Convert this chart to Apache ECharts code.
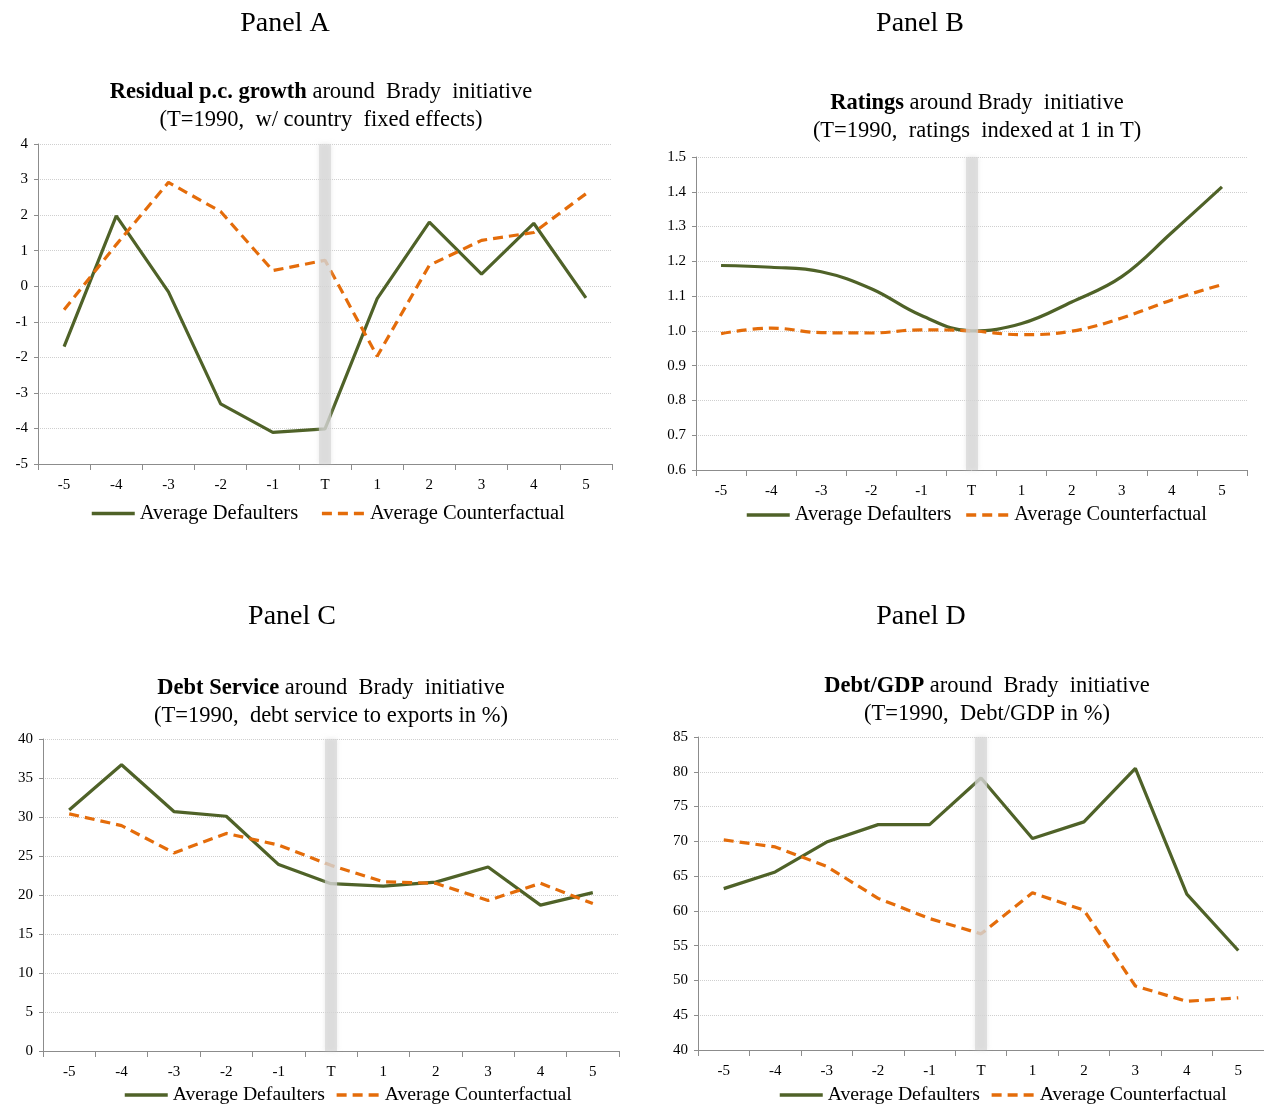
<!DOCTYPE html>
<html><head><meta charset="utf-8">
<script src="https://cdn.jsdelivr.net/npm/echarts@6/dist/echarts.min.js"></script>
<style>html,body{margin:0;padding:0;background:#fff}#c{width:1264px;height:1105px}</style>
</head><body><div id="c"></div><script>
const categories = ['-5','-4','-3','-2','-1','T','1','2','3','4','5'];

const growthDefaulters     = [-1.70, 1.98, -0.16, -3.31, -4.11, -4.01, -0.35, 1.80, 0.34, 1.77, -0.33];
const growthCounterfactual = [-0.66, 1.17, 2.92, 2.10, 0.44, 0.73, -1.97, 0.59, 1.29, 1.51, 2.60];

const ratingsDefaulters     = [1.188, 1.183, 1.170, 1.121, 1.044, 1.000, 1.021, 1.083, 1.156, 1.283, 1.414];
const ratingsCounterfactual = [0.992, 1.008, 0.995, 0.994, 1.003, 1.000, 0.989, 0.999, 1.037, 1.089, 1.133];

const debtServiceDefaulters     = [30.9, 36.7, 30.7, 30.1, 23.9, 21.45, 21.15, 21.65, 23.6, 18.7, 20.3];
const debtServiceCounterfactual = [30.4, 28.9, 25.4, 27.9, 26.4, 23.8, 21.7, 21.5, 19.3, 21.5, 18.9];

const debtGdpDefaulters     = [63.2, 65.6, 69.9, 72.4, 72.4, 79.1, 70.4, 72.8, 80.5, 62.4, 54.3];
const debtGdpCounterfactual = [70.2, 69.2, 66.4, 61.8, 58.9, 56.7, 62.6, 60.1, 49.2, 47.0, 47.5];

const panelLabels = ['Panel A', 'Panel B', 'Panel C', 'Panel D'];
const boldTitles = ['Residual p.c. growth', 'Ratings', 'Debt Service', 'Debt/GDP'];
const restTitles = [' around  Brady  initiative', ' around Brady  initiative', ' around  Brady  initiative', ' around  Brady  initiative'];
const subTitles = ['(T=1990,  w/ country  fixed effects)', '(T=1990,  ratings  indexed at 1 in T)', '(T=1990,  debt service to exports in %)', '(T=1990,  Debt/GDP in %)'];
const legendNames = ['Average Defaulters', 'Average Counterfactual'];

const FONT = "'Liberation Serif','Times New Roman',serif";
const GREEN = '#4f6228';
const ORANGE = '#e46c0a';
const AXIS = '#8c8c8c';

const panels = [
  {def: growthDefaulters, cf: growthCounterfactual, min: -5, max: 4, interval: 1, dec: 0, smooth: false,
   grid: {left: 38, top: 144, width: 574, height: 320},
   panelPos: [285, 10], titlePos: [321, 78], legendPos: [90, 503], legendFont: 20.5, legendGap: 22},
  {def: ratingsDefaulters, cf: ratingsCounterfactual, min: 0.6, max: 1.5, interval: 0.1, dec: 1, smooth: 0.4,
   grid: {left: 696, top: 157, width: 551, height: 313},
   panelPos: [920, 10], titlePos: [977, 89], legendPos: [745, 505], legendFont: 20.3, legendGap: 13},
  {def: debtServiceDefaulters, cf: debtServiceCounterfactual, min: 0, max: 40, interval: 5, dec: 0, smooth: false,
   grid: {left: 43, top: 739, width: 576, height: 312},
   panelPos: [292, 603], titlePos: [331, 674], legendPos: [123, 1085], legendFont: 19.7, legendGap: 10},
  {def: debtGdpDefaulters, cf: debtGdpCounterfactual, min: 40, max: 85, interval: 5, dec: 0, smooth: false,
   grid: {left: 698, top: 737, width: 577, height: 313},
   panelPos: [921, 603], titlePos: [987, 672], legendPos: [778, 1085], legendFont: 19.7, legendGap: 10}
];

const option = {
  backgroundColor: '#fff',
  animation: false,
  title: [], legend: [], grid: [], xAxis: [], yAxis: [], series: []
};

panels.forEach((p, i) => {
  option.title.push({
    text: panelLabels[i], left: p.panelPos[0], top: p.panelPos[1], textAlign: 'center', padding: 0,
    textStyle: {fontFamily: FONT, fontSize: 28, fontWeight: 'normal', color: '#000'}
  });
  option.title.push({
    text: '{b|' + boldTitles[i] + '}{n|' + restTitles[i] + '}\n{n|' + subTitles[i] + '}',
    left: p.titlePos[0], top: p.titlePos[1], textAlign: 'center', padding: 0,
    textStyle: {
      fontFamily: FONT, fontSize: 22.5, fontWeight: 'normal', color: '#000', lineHeight: 28,
      rich: {
        b: {fontFamily: FONT, fontSize: 22.5, fontWeight: 'bold', color: '#000', lineHeight: 28},
        n: {fontFamily: FONT, fontSize: 22.5, fontWeight: 'normal', color: '#000', lineHeight: 28}
      }
    }
  });
  option.legend.push({
    data: legendNames, left: p.legendPos[0], top: p.legendPos[1], padding: 0,
    itemWidth: 43, itemHeight: 12, itemGap: p.legendGap, selectedMode: false,
    itemStyle: {opacity: 0},
    lineStyle: {width: 3.5},
    textStyle: {fontFamily: FONT, fontSize: p.legendFont, color: '#000'}
  });
  option.grid.push(Object.assign({containLabel: false}, p.grid));
  option.xAxis.push({
    type: 'category', gridIndex: i, data: categories, boundaryGap: true,
    axisLine: {show: true, onZero: false, lineStyle: {color: AXIS, width: 1}},
    axisTick: {show: true, length: 6, lineStyle: {color: AXIS}},
    axisLabel: {fontFamily: FONT, fontSize: 15, color: '#000', margin: 14},
    splitLine: {show: false}
  });
  option.yAxis.push({
    type: 'value', gridIndex: i, min: p.min, max: p.max, interval: p.interval,
    axisLine: {show: true, lineStyle: {color: AXIS, width: 1}},
    axisTick: {show: true, length: 4, lineStyle: {color: AXIS}},
    axisLabel: {fontFamily: FONT, fontSize: 15, color: '#000', margin: 10,
      formatter: v => Number(v).toFixed(p.dec)},
    splitLine: {show: true, lineStyle: {color: '#cfcfcf', width: 1, type: 'dotted'}}
  });
  option.series.push({
    name: legendNames[0], type: 'line', xAxisIndex: i, yAxisIndex: i, data: p.def,
    symbol: 'none', smooth: p.smooth, z: 3,
    lineStyle: {color: GREEN, width: 3.2}, itemStyle: {color: GREEN}
  });
  option.series.push({
    name: legendNames[1], type: 'line', xAxisIndex: i, yAxisIndex: i, data: p.cf,
    symbol: 'none', smooth: p.smooth, z: 3,
    lineStyle: {color: ORANGE, width: 3.2, type: [10, 6]}, itemStyle: {color: ORANGE}
  });
  option.series.push({
    name: 'band' + i, type: 'line', xAxisIndex: i, yAxisIndex: i, data: [],
    symbol: 'none', z: 6, silent: true,
    markLine: {
      silent: true, symbol: ['none', 'none'], label: {show: false}, animation: false,
      lineStyle: {color: 'rgba(212,212,212,0.65)', width: 12, type: 'solid',
        shadowBlur: 5, shadowColor: 'rgba(212,212,212,0.8)'},
      emphasis: {disabled: true},
      data: [{xAxis: 'T'}]
    }
  });
});

const chart = echarts.init(document.getElementById('c'), null, {renderer: 'canvas'});
chart.setOption(option);
</script></body></html>
